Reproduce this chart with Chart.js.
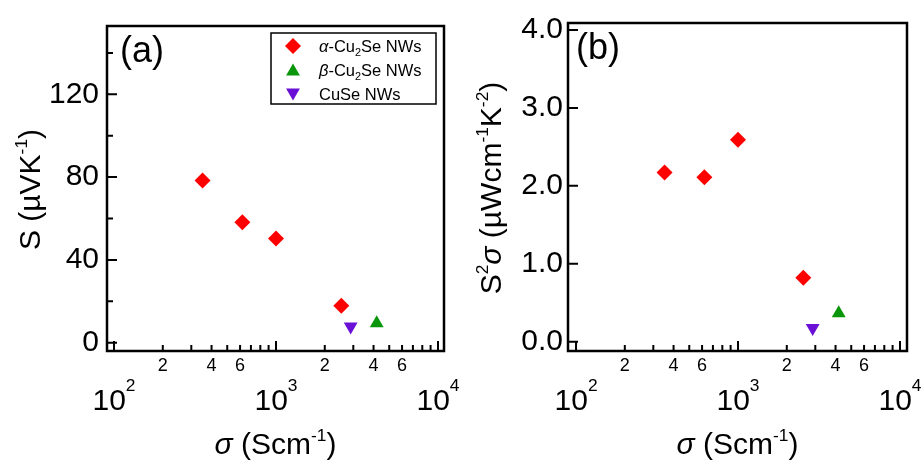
<!DOCTYPE html>
<html>
<head>
<meta charset="utf-8">
<title>Cu-Se nanowires: S and S²σ vs σ</title>
<script src="https://cdn.jsdelivr.net/npm/chart.js@4.4.1/dist/chart.umd.min.js"></script>
<style>
  html, body { margin: 0; padding: 0; background: #fff; }
  #wrap { position: relative; width: 922px; height: 467px; overflow: hidden; }
  #wrap canvas { position: absolute; top: 0; }
</style>
</head>
<body>
<div id="wrap">
  <canvas id="panelA" width="461" height="467" style="left:0"></canvas>
  <canvas id="panelB" width="461" height="467" style="left:461px"></canvas>
</div>
<script>
const FONT = '"Liberation Sans", Arial, sans-serif';

// --- Data ---
const seriesNames = [
  [['α', 'i'], ['-Cu', ''], ['2', 'sub'], ['Se NWs', '']],
  [['β', 'i'], ['-Cu', ''], ['2', 'sub'], ['Se NWs', '']],
  [['CuSe NWs', '']],
];
const seriesColors = ['#ff0000', '#0a960a', '#6a10d6'];
const seriesShapes = ['rectRot', 'triangle', 'triangle'];
const seriesRotation = [0, 0, 180];
const seriesRadius = [8, 8, 8];

const sigmaAlpha = [352, 620, 1000, 2530];
const sigmaBeta  = [4185];
const sigmaCuSe  = [2890];

const seebeckAlpha = [78.4, 58.2, 50.4, 17.8];
const seebeckBeta  = [9.4];
const seebeckCuSe  = [7.8];

const pfAlpha = [2.17, 2.11, 2.59, 0.82];
const pfBeta  = [0.365];
const pfCuSe  = [0.175];

const xTicks = [100, 200, 300, 400, 500, 600, 700, 800, 900,
                1000, 2000, 3000, 4000, 5000, 6000, 7000, 8000, 9000, 10000];
const xMajorTicks = [100, 1000, 10000];
const xLabelledMantissas = [2, 4, 6];

const yTicksA  = [0, 20, 40, 60, 80, 100, 120, 140];
const yLabelsA = [0, 40, 80, 120];
const yTicksB  = [0, 1, 2, 3, 4];
const yLabelsB = [0, 1, 2, 3, 4];

const xTitle  = [['σ', 'i'], [' (Scm', ''], ['-1', 'sup'], [')', '']];
const yTitleA = [['S (µVK', ''], ['-1', 'sup'], [')', '']];
const yTitleB = [['S', ''], ['2', 'sup'], ['σ', 'i'], [' (µWcm', ''], ['-1', 'sup'], ['K', ''], ['-2', 'sup'], [')', '']];

// --- Helpers ---
function drawRich(ctx, parts, x, y, size, align, supScale = 0.58, supShift = 0.42) {
  const segs = parts.map(([t, s]) => {
    const small = s === 'sup' || s === 'sub';
    const fs = small ? size * supScale : size;
    const font = `${s === 'i' ? 'italic ' : ''}${fs}px ${FONT}`;
    ctx.font = font;
    const dy = s === 'sup' ? -size * supShift : s === 'sub' ? size * 0.22 : 0;
    return { t, font, dy, w: ctx.measureText(t).width };
  });
  const total = segs.reduce((sum, g) => sum + g.w, 0);
  let cx = align === 'center' ? x - total / 2 : align === 'right' ? x - total : x;
  ctx.textAlign = 'left';
  ctx.textBaseline = 'alphabetic';
  segs.forEach(g => { ctx.font = g.font; ctx.fillText(g.t, cx, y + g.dy); cx += g.w; });
}

function drawMarker(ctx, shape, rotation, x, y, r, color) {
  ctx.save();
  ctx.translate(x, y);
  ctx.rotate(rotation * Math.PI / 180);
  ctx.fillStyle = color;
  ctx.beginPath();
  if (shape === 'rectRot') {
    ctx.moveTo(-r, 0); ctx.lineTo(0, -r); ctx.lineTo(r, 0); ctx.lineTo(0, r);
  } else {
    for (let k = 0; k < 3; k++) {
      const a = k * 2 * Math.PI / 3;
      ctx.lineTo(Math.sin(a) * r, -Math.cos(a) * r);
    }
  }
  ctx.closePath();
  ctx.fill();
  ctx.restore();
}

const toPoints = (xs, ys) => xs.map((x, i) => ({ x, y: ys[i] }));

// --- Frame, inward ticks, titles, legend ---
const framePlugin = {
  id: 'frame',
  afterDraw(chart, args, o) {
    const { ctx, chartArea: a, scales: { x, y } } = chart;
    ctx.save();
    ctx.fillStyle = '#000';
    ctx.strokeStyle = '#000';

    ctx.lineWidth = 2;
    ctx.beginPath();
    x.ticks.forEach(t => {
      const px = x.getPixelForValue(t.value);
      const len = xMajorTicks.includes(t.value) ? 10 : 6;
      ctx.moveTo(px, a.bottom); ctx.lineTo(px, a.bottom - len);
    });
    y.ticks.forEach(t => {
      const py = y.getPixelForValue(t.value);
      const len = o.yLabels.includes(t.value) ? 10 : 6;
      ctx.moveTo(a.left, py); ctx.lineTo(a.left + len, py);
    });
    ctx.stroke();

    ctx.lineWidth = 2.5;
    ctx.strokeRect(a.left, a.top, a.right - a.left, a.bottom - a.top);

    // decade labels 10^n
    xMajorTicks.forEach(v => {
      const px = x.getPixelForValue(v);
      drawRich(ctx, [['10', ''], [String(Math.round(Math.log10(v))), 'sup']], px, a.bottom + 59, 30, 'center', 0.58, 0.62);
    });

    // axis titles
    drawRich(ctx, xTitle, (a.left + a.right) / 2, a.bottom + 103, 30, 'center');
    ctx.save();
    ctx.translate(o.yTitleX, (a.top + a.bottom) / 2 + 1);
    ctx.rotate(-Math.PI / 2);
    drawRich(ctx, o.yTitle, 0, 0, 30, 'center');
    ctx.restore();

    // panel label
    ctx.font = `36px ${FONT}`;
    ctx.textAlign = 'left';
    ctx.fillText(o.panelLabel, a.left + o.labelDx, o.labelY);

    // legend
    if (o.legend) {
      const bx = a.right - 173, by = a.top + 7, bw = 165, bh = 71;
      ctx.lineWidth = 1.5;
      ctx.strokeRect(bx, by, bw, bh);
      chart.data.datasets.forEach((ds, i) => {
        const ry = by + 13 + i * 24;
        drawMarker(ctx, seriesShapes[i], seriesRotation[i], bx + 22, ry + (i === 0 ? 0 : i === 1 ? 1.5 : -1.5), seriesRadius[i], seriesColors[i]);
        ctx.fillStyle = '#000';
        drawRich(ctx, seriesNames[i], bx + 48, ry + 6, 16.5, 'left', 0.66);
      });
    }
    ctx.restore();
  }
};

function buildPanel(p) {
  const datasets = p.ys.map((ys, i) => ({
    label: seriesNames[i].map(s => s[0]).join(''),
    data: toPoints(p.xs[i], ys),
    pointStyle: seriesShapes[i],
    rotation: seriesRotation[i],
    radius: seriesRadius[i],
    backgroundColor: seriesColors[i],
    borderColor: seriesColors[i],
    borderWidth: 0,
    showLine: false,
  }));

  return new Chart(document.getElementById(p.id), {
    type: 'scatter',
    data: { datasets },
    plugins: [framePlugin],
    options: {
      responsive: false,
      animation: false,
      events: [],
      layout: { padding: { top: 14, right: p.padRight, left: 0, bottom: 0 } },
      plugins: {
        legend: { display: false },
        tooltip: { enabled: false },
        frame: {
          yLabels: p.yLabels, yTitle: p.yTitle, yTitleX: p.yTitleX,
          panelLabel: p.panelLabel, labelDx: p.labelDx, labelY: p.labelY, legend: p.legend,
        },
      },
      scales: {
        x: {
          type: 'logarithmic',
          min: p.xMin, max: p.xMax,
          afterBuildTicks: s => { s.ticks = xTicks.map(v => ({ value: v })); },
          afterFit: s => { s.height = 116; },
          grid: { display: false, drawTicks: false },
          border: { display: false },
          ticks: {
            autoSkip: false, maxRotation: 0, padding: 4,
            color: '#000', font: { family: FONT, size: 18 },
            callback: v => {
              if (xMajorTicks.includes(v)) return '';
              const m = Math.round(v / Math.pow(10, Math.floor(Math.log10(v) + 1e-9)));
              return xLabelledMantissas.includes(m) ? String(m) : '';
            },
          },
        },
        y: {
          min: p.yMin, max: p.yMax,
          afterBuildTicks: s => { s.ticks = p.yTicks.map(v => ({ value: v })); },
          afterFit: s => { s.width = 107; },
          grid: { display: false, drawTicks: false },
          border: { display: false },
          ticks: {
            padding: p.yPad, color: '#000', font: { family: FONT, size: 30 },
            callback: v => p.yLabels.includes(v) ? p.yFmt(v) : '',
          },
        },
      },
    },
  });
}

buildPanel({
  id: 'panelA',
  xs: [sigmaAlpha, sigmaBeta, sigmaCuSe],
  ys: [seebeckAlpha, seebeckBeta, seebeckCuSe],
  xMin: 90.5, xMax: 10890, yMin: -4, yMax: 153,
  yTicks: yTicksA, yLabels: yLabelsA, yFmt: v => String(v), yPad: 8,
  padRight: 17, yTitle: yTitleA, yTitleX: 40,
  panelLabel: '(a)', labelDx: 13, labelY: 62, legend: true,
});

buildPanel({
  id: 'panelB',
  xs: [sigmaAlpha, sigmaBeta, sigmaCuSe],
  ys: [pfAlpha, pfBeta, pfCuSe],
  xMin: 89.2, xMax: 11046, yMin: -0.12, yMax: 4.09,
  yTicks: yTicksB, yLabels: yLabelsB, yFmt: v => v.toFixed(1), yPad: 5,
  padRight: 15, yTitle: yTitleB, yTitleX: 40,
  panelLabel: '(b)', labelDx: 8, labelY: 59, legend: false,
});
</script>
</body>
</html>
